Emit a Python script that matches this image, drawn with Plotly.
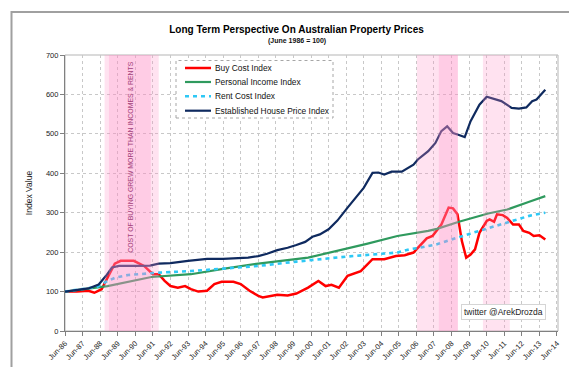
import plotly.graph_objects as go

# ---------------- data ----------------
buy_dates = ["1986-06", "1987-02", "1987-10", "1988-02", "1988-07", "1988-11", "1989-04", "1989-08",
             "1990-05", "1990-12", "1991-06", "1991-10", "1992-02", "1992-06", "1992-11", "1993-04",
             "1993-08", "1994-01", "1994-07", "1994-12", "1995-05", "1996-01", "1996-06", "1996-12",
             "1997-06", "1997-09", "1998-07", "1999-02", "1999-08", "2000-04", "2000-11", "2001-04",
             "2001-08", "2002-01", "2002-07", "2003-04", "2003-12", "2004-08", "2005-04", "2005-10",
             "2006-04", "2006-07", "2006-10", "2007-01", "2007-05", "2007-11", "2008-04", "2008-07",
             "2008-10", "2009-01", "2009-04", "2009-07", "2009-10", "2010-01", "2010-06", "2010-08",
             "2010-11", "2011-01", "2011-05", "2011-08", "2011-12", "2012-04", "2012-07", "2012-11",
             "2013-02", "2013-06", "2013-10"]
buy_values = [100, 100, 102, 97, 106, 135, 171, 178,
              178, 165, 144, 144, 127, 114, 110, 114,
              106, 100, 102, 119, 125, 125, 119, 102,
              89, 85, 92, 90, 95, 110, 127, 114,
              117, 110, 140, 152, 182, 182, 190, 192,
              199, 211, 222, 235, 241, 270, 313, 311,
              296, 228, 186, 194, 207, 249, 279, 283,
              277, 296, 294, 287, 270, 270, 254, 249,
              241, 243, 232]

income_dates = ["1986-06", "1988-11", "1991-05", "1993-08", "1995-07", "1996-11", "1997-06", "2000-04",
                "2001-12", "2003-08", "2005-05", "2005-12", "2007-02", "2007-08", "2008-11", "2010-07",
                "2011-08", "2012-11", "2013-10"]
income_values = [100, 114, 137, 144, 158, 168, 171, 186,
                 203, 221, 241, 245, 254, 259, 277, 298,
                 308, 328, 342]

rent_dates = ["1986-06", "1987-06", "1988-04", "1988-11", "1989-05", "1990-01", "1991-10", "1993-08",
              "1995-06", "1996-11", "1997-06", "1999-08", "2002-07", "2005-05", "2006-01", "2006-08",
              "2007-08", "2009-05", "2011-01", "2012-11", "2013-10"]
rent_values = [100, 106, 112, 127, 136, 142, 148, 152,
               158, 162, 165, 176, 189, 199, 207, 211,
               220, 245, 268, 292, 300]

house_dates = ["1986-06", "1987-04", "1987-10", "1988-05", "1988-10", "1989-02", "1989-07", "1990-06",
               "1991-04", "1991-10", "1992-06", "1993-06", "1994-07", "1995-06", "1996-04", "1996-11",
               "1997-06", "1997-12", "1998-07", "1999-02", "1999-08", "2000-02", "2000-07", "2000-12",
               "2001-06", "2001-12", "2002-07", "2002-12", "2003-06", "2003-12", "2004-04", "2004-08",
               "2005-01", "2005-08", "2005-12", "2006-04", "2006-07", "2007-02", "2007-07", "2007-11",
               "2008-03", "2008-07", "2008-11", "2009-03", "2009-07", "2010-01", "2010-06", "2010-11",
               "2011-04", "2011-11", "2012-04", "2012-09", "2013-01", "2013-04", "2013-10"]
house_values = [100, 105, 108, 118, 140, 161, 165, 165,
                166, 171, 172, 178, 183, 183, 184, 186,
                190, 196, 205, 211, 218, 226, 239, 245,
                258, 280, 313, 335, 363, 401, 402, 397,
                404, 404, 414, 422, 435, 456, 477, 507,
                519, 502, 497, 492, 532, 574, 594, 589,
                583, 566, 564, 567, 583, 587, 612]

series_names = ["Buy Cost Index", "Personal Income Index", "Rent Cost Index", "Established House Price Index"]

# highlighted periods (start, end); dark ones overlap light ones
light_bands = [("1988-09-01", "1991-10-01"), ("2006-06-10", "2008-10-10"), ("2010-03-15", "2011-09-25")]
dark_bands = [("1988-12-01", "1991-04-20"), ("2007-09-10", "2008-10-10")]

band_note = "COST OF BUYING GREW MORE THAN INCOMES & RENTS"
band_note_x = "1990-03-05"
band_note_y = 442

title_text = "Long Term Perspective On Australian Property Prices"
subtitle_text = "(June 1986 = 100)"
credit_text = "twitter @ArekDrozda"

# ---------------- layout helpers ----------------
W, H = 577, 367
ML, MR, MT, MB = 57, 27, 47, 44
PW, PH = W - ML - MR, H - MT - MB


def px(xp):
    return (xp - ML) / PW


def py(yp):
    return (H - MB - yp) / PH


FONT = "Liberation Sans, Arial, sans-serif"
RED = "#ff0000"
GREEN = "#2f9a5e"
CYAN = "#2ec8f5"
NAVY = "#0f2a5f"

styles = [
    dict(color=RED, width=2.5),
    dict(color=GREEN, width=2.2),
    dict(color=CYAN, width=2.6, dash="4px,4px"),
    dict(color=NAVY, width=2.2),
]

fig = go.Figure()
for name, xs, ys, st in zip(series_names,
                            [buy_dates, income_dates, rent_dates, house_dates],
                            [buy_values, income_values, rent_values, house_values],
                            styles):
    fig.add_trace(go.Scatter(x=xs, y=ys, name=name, mode="lines", line=st, showlegend=False))

shapes = []
for x0, x1 in light_bands + dark_bands:
    shapes.append(dict(type="rect", xref="x", yref="paper", x0=x0, x1=x1, y0=0, y1=1,
                       fillcolor="rgba(255,140,195,0.25)", line=dict(width=0), layer="above"))
# plot frame (top / right light grey)
shapes.append(dict(type="rect", xref="paper", yref="paper", x0=0, x1=1, y0=0, y1=1,
                   line=dict(color="#b5b5b5", width=1), layer="below"))
# outer chart border
shapes.append(dict(type="rect", xref="paper", yref="paper", x0=px(3.5), x1=px(571), y0=py(362), y1=py(4),
                   line=dict(color="#a0a0a0", width=2), layer="below"))
# manual legend box
shapes.append(dict(type="rect", xref="paper", yref="paper", x0=px(168), x1=px(325), y0=py(110), y1=py(52.5),
                   line=dict(color="#a6a6a6", width=1, dash="dot"), fillcolor="white", layer="above"))
legend_rows = [60, 74, 88.3, 102.7]
annotations = []
for name, st, yr in zip(series_names, styles, legend_rows):
    shapes.append(dict(type="line", xref="paper", yref="paper", x0=px(177), x1=px(203), y0=py(yr), y1=py(yr),
                       line=dict(color=st["color"], width=st["width"], dash=st.get("dash", "solid")),
                       layer="above"))
    annotations.append(dict(xref="paper", yref="paper", x=px(204.5), y=py(yr), text=name, showarrow=False,
                            xanchor="left", yanchor="middle", font=dict(family=FONT, size=8.4, color="#111111")))

annotations.append(dict(xref="x", yref="y", x=band_note_x, y=band_note_y, text=band_note, textangle=-90,
                        showarrow=False, xanchor="center", yanchor="middle",
                        font=dict(family=FONT, size=6.9, color="#a3407a")))
annotations.append(dict(xref="paper", yref="paper", x=px(495.5), y=py(303.5), text=credit_text,
                        showarrow=False, xanchor="center", yanchor="middle",
                        bgcolor="white", bordercolor="#d5d5d5", borderwidth=1, borderpad=2,
                        font=dict(family=FONT, size=8.5, color="#222222")))
annotations.append(dict(xref="paper", yref="paper", x=px(W / 2), y=py(33), xanchor="center",
                        text="<b>" + subtitle_text + "</b>", showarrow=False, yanchor="middle",
                        font=dict(family=FONT, size=7, color="#111111")))

fig.update_layout(
    width=W, height=H,
    margin=dict(l=ML, r=MR, t=MT, b=MB),
    paper_bgcolor="white", plot_bgcolor="white",
    title=dict(text="<b>" + title_text + "</b>", x=0.5, xref="container", y=1 - 21 / H, yanchor="middle",
               font=dict(family=FONT, size=10, color="#000000")),
    font=dict(family=FONT, color="#222222"),
    shapes=shapes, annotations=annotations,
    xaxis=dict(type="date", range=["1986-06-01", "2014-06-22"], tick0="1986-06-01", dtick="M12",
               tickformat="%b-%y", tickangle=-45, tickfont=dict(size=7.5, color="#222222"),
               showgrid=True, gridcolor="#c8c8c8", griddash="dot", gridwidth=1,
               showline=True, linecolor="#808080", linewidth=1.2, ticks="outside", ticklen=4,
               tickcolor="#808080", zeroline=False),
    yaxis=dict(range=[0, 700], dtick=100, tickfont=dict(size=7.5, color="#222222"),
               showgrid=True, gridcolor="#c8c8c8", griddash="dot", gridwidth=1,
               showline=True, linecolor="#808080", linewidth=1.2, ticks="outside", ticklen=4,
               tickcolor="#808080", zeroline=False,
               title=dict(text="Index Value", font=dict(size=8.5, color="#222222"), standoff=11)),
)

fig.write_html("out.html")
